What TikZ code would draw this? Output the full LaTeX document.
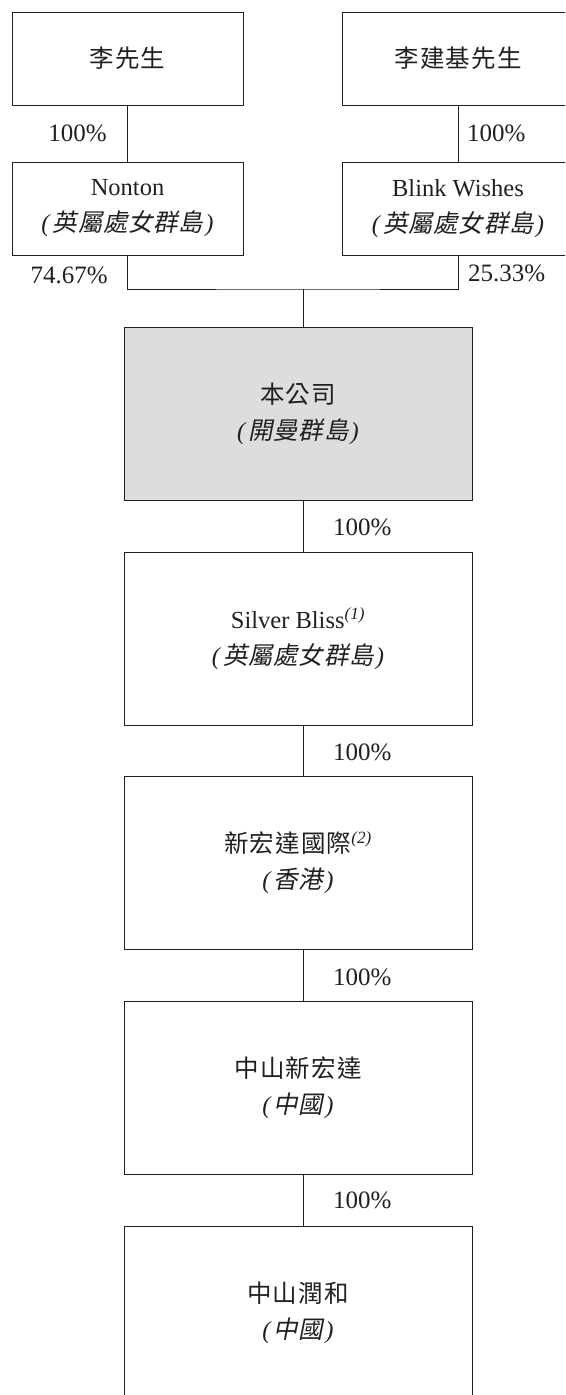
\documentclass[tikz,border=0pt]{standalone}
\usepackage{fontspec}
\setmainfont{Liberation Serif}
\newfontfamily\cjk{Noto Sans CJK TC}[LetterSpace=5]
\newfontfamily\cjkit{Noto Sans CJK TC}[FakeSlant=0.2, LetterSpace=3]

\newcommand{\place}[1]{\textit{(}\kern2pt{\cjkit #1}\kern2pt\textit{)}}
\newcommand{\fnote}[1]{\textsuperscript{\itshape(#1)}}

\begin{document}
\begin{tikzpicture}[x=1pt,y=-1pt]

% Define colours of the chart
\definecolor{ink}{RGB}{35,31,32}
\definecolor{boxgrey}{RGB}{220,221,223}

\tikzset{
  owner/.style={draw=ink, line width=0.9pt, text=ink, minimum width=231pt, minimum height=93pt,
    align=center, inner sep=0pt, font=\fontsize{24.5}{36}\selectfont},
  entity/.style={owner, minimum width=348pt, minimum height=173pt},
  link/.style={draw=ink, line width=0.9pt},
  pct/.style={text=ink, inner sep=0pt, font=\fontsize{25}{28}\selectfont}
}

% Page frame, the chart is cut at the right and the bottom
\useasboundingbox (0,0) rectangle (565,1395);
\clip (0,0) rectangle (565,1395);

% SHAREHOLDERS
\node[owner] (mrli) at (127.5,58.5) {\cjk 李先生};
\node[owner] (mrlijj) at (458,58.5) {\cjk 李建基先生};

\node[owner] (nonton) at (127.5,208.5) {Nonton\\\place{英屬處女群島}};
\node[owner] (blink) at (458,208.5) {Blink Wishes\\\place{英屬處女群島}};

% GROUP COMPANIES
\node[entity, fill=boxgrey] (company) at (298,413.5) {{\cjk 本公司}\\\place{開曼群島}};
\node[entity] (silver) at (298,638.5) {Silver Bliss\fnote{1}\\\place{英屬處女群島}};
\node[entity] (xhd) at (298,863) {{\cjk 新宏達國際}\fnote{2}\\\place{香港}};
\node[entity] (zsxhd) at (298,1087.5) {{\cjk 中山新宏達}\\\place{中國}};
\node[entity] (zsrh) at (298,1312.5) {{\cjk 中山潤和}\\\place{中國}};

% Connectors
\coordinate (spine) at (303,289);
\draw[link] (mrli) -- (nonton);
\draw[link] (mrlijj) -- (blink);
\draw[link] (nonton.south) |- (spine) -| (blink.south);
\draw[link] (spine) -- (spine |- company.north);
\foreach \a/\b in {company/silver, silver/xhd, xhd/zsxhd, zsxhd/zsrh}
  \draw[link] (\a.south -| spine) -- (\b.north -| spine);

% Shareholding percentages
\node[pct, anchor=east] (pctli) at (107,133) {100\%};
\node[pct, anchor=west] (pctlijj) at (467,133) {100\%};
\node[pct, anchor=east] (pctnonton) at (108,275) {74.67\%};
\node[pct, anchor=west] (pctblink) at (468,273) {25.33\%};
\foreach \n/\y in {silver/527, xhd/752, zsxhd/977, zsrh/1200}
  \node[pct, anchor=west] (pct\n) at (333,\y) {100\%};

\end{tikzpicture}
\end{document}
